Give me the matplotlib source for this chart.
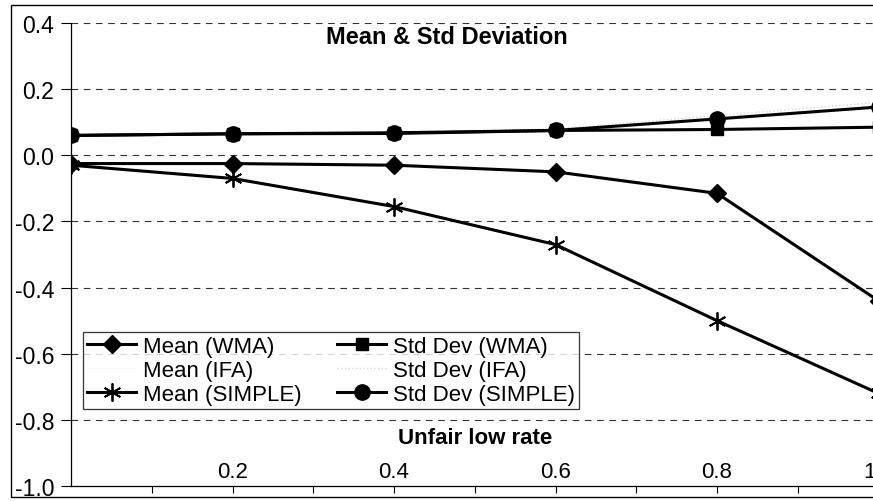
import matplotlib
matplotlib.use('Agg')
import matplotlib.pyplot as plt
from matplotlib.patches import Rectangle

plt.rcParams['font.family'] = ['Liberation Sans', 'DejaVu Sans']

# --- data ---
x = [0.0, 0.2, 0.4, 0.6, 0.8, 1.0]
mean_wma = [-0.025, -0.025, -0.03, -0.05, -0.115, -0.44]
mean_ifa = [-0.025, -0.026, -0.031, -0.052, -0.12, -0.45]
mean_simple = [-0.03, -0.07, -0.155, -0.27, -0.50, -0.72]
std_wma = [0.06, 0.065, 0.068, 0.075, 0.078, 0.085]
std_ifa = [0.062, 0.066, 0.07, 0.08, 0.12, 0.16]
std_simple = [0.06, 0.065, 0.066, 0.075, 0.11, 0.146]

yticks = [0.4, 0.2, 0.0, -0.2, -0.4, -0.6, -0.8, -1.0]
ytick_labels = ['0.4', '0.2', '0.0', '-0.2', '-0.4', '-0.6', '-0.8', '-1.0']
xticks = [0.2, 0.4, 0.6, 0.8, 1.0]
xtick_labels = ['0.2', '0.4', '0.6', '0.8', '1.0']
xminor = [0.1, 0.3, 0.5, 0.7, 0.9]

fig = plt.figure(figsize=(8.73, 5.02), dpi=100)
ax = fig.add_axes([71/873, 1-487/502, 807.5/873, 463/502])

lw = 2.2
ax.plot(x, mean_wma, color='black', lw=lw, marker='D', ms=9, label='Mean (WMA)', zorder=5)
ax.plot(x, mean_ifa, color='#f6f6f6', lw=1.0, label='Mean (IFA)', zorder=2)
ax.plot(x, mean_simple, color='black', lw=lw, marker=(6, 2, 0), ms=13, mew=1.3,
        label='Mean (SIMPLE)', zorder=5)
ax.plot(x, std_wma, color='black', lw=lw, marker='s', ms=9, label='Std Dev (WMA)', zorder=5)
ax.plot(x, std_ifa, color='#d8d8d8', lw=1.0, ls=':', label='Std Dev (IFA)', zorder=2)
ax.plot(x, std_simple, color='black', lw=lw, marker='o', ms=11, label='Std Dev (SIMPLE)', zorder=5)

ax.set_xlim(0, 1.0)
ax.set_ylim(-1.0, 0.4)
ax.set_yticks(yticks)
ax.set_yticklabels(ytick_labels, fontsize=16.5)
ax.set_xticks(xticks)
ax.set_xticklabels(xtick_labels, fontsize=16)
ax.set_xticks(xminor, minor=True)
ax.tick_params(axis='y', direction='out', length=7, width=0.8, pad=5)
ax.tick_params(axis='x', which='both', direction='out', length=5, width=0.8, pad=-23)

for yv in yticks[:-1]:
    ax.axhline(yv, color='#333333', lw=0.8, ls=(0, (6, 5)), zorder=1)

for s in ['top', 'right']:
    ax.spines[s].set_visible(False)
ax.spines['left'].set_linewidth(0.9)
ax.spines['bottom'].set_linewidth(0.9)

ax.set_xlabel('Unfair low rate', fontsize=16, fontweight='bold')
ax.xaxis.set_label_coords(0.5, 0.128)

fig.text(447/873, 1-38/502, 'Mean & Std Deviation', fontsize=17, fontweight='bold',
         ha='center', va='center')

leg = ax.legend(ncol=2, loc='lower left', bbox_to_anchor=(12/807.5, 77/463),
                fontsize=16, frameon=True, fancybox=False, edgecolor='black',
                borderpad=0.2, labelspacing=0.12, handlelength=2.2, handletextpad=0.3,
                columnspacing=1.6, borderaxespad=0)
leg.get_frame().set_linewidth(0.9)

fig.patches.append(Rectangle((11/873, 1-498/502), 1.0, 492/502, transform=fig.transFigure,
                             fill=False, edgecolor='black', lw=1.0))

fig.savefig('out.png', dpi=100)
